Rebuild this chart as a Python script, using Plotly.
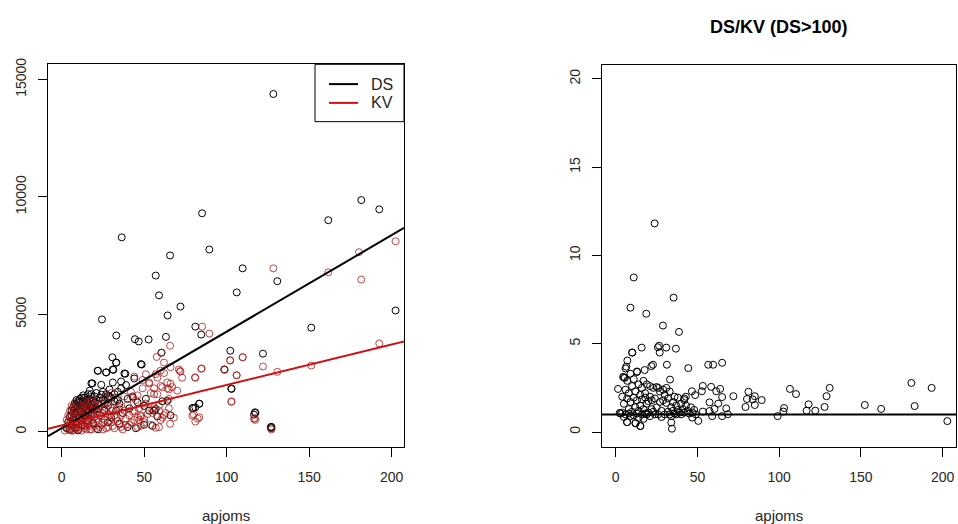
import plotly.graph_objects as go

# ---------------- data (left panel: DS and KV vs apjoms) ----------------
ds_x = [128.3, 181.6, 192.5, 161.6, 85.1, 36.4, 89.5, 65.7, 109.7, 57.0, 130.7, 106.1, 59.0, 72.0,
        64.2, 24.4, 202.4, 151.3, 81.0, 84.6, 33.1, 44.4, 46.7, 52.7, 63.2, 102.2, 122.0, 30.7,
        33.1, 60.4, 48.5, 21.8, 31.3, 26.9, 38.6, 102.8, 83.4, 81.0, 79.2, 117.4, 116.6, 127.1,
        127.1, 57.0, 18.6, 98.6, 103.0, 79.8, 83.4, 117.2, 126.8,
        3, 4, 5, 5, 6, 6, 7, 7, 8, 8, 8, 9, 9, 10, 10, 10, 11, 11, 12, 12, 12, 13, 13, 14, 14, 14,
        15, 15, 16, 16, 17, 17, 18, 18, 19, 19, 20, 20, 21, 22, 22, 23, 24, 24, 25, 26, 27, 27,
        28, 29, 30, 30, 31, 31, 32, 33, 33, 34, 35, 36, 36, 37, 38, 39, 40, 41, 43, 44, 46, 48,
        50, 51, 53, 56, 58, 61, 64, 66, 40, 45, 50, 55, 28, 35, 22,
        5, 6, 7, 8, 9, 9, 10, 11, 11, 12, 13, 13, 14, 15, 16, 16, 17, 18, 18, 19, 20, 21, 22,
        23, 25, 26, 28, 29, 32, 34]
ds_y = [14380, 9863, 9470, 9007, 9301, 8277, 7758, 7506, 6958, 6650, 6411, 5934, 5808, 5331,
        4952, 4784, 5163, 4433, 4475, 4139, 4097, 3942, 3844, 3928, 4040, 3451, 3325, 3171,
        2946, 3367, 2862, 2595, 2637, 2525, 2469, 1838, 1193, 1038, 1010, 800, 730, 210,
        154, 968, 2062, 2652, 1825, 1010, 1195, 829, 198,
        150, 420, 80, 650, 300, 900, 1050, 520, 180, 1200, 760, 1350, 400, 950, 1100, 60, 1250,
        620, 1450, 850, 300, 1000, 1550, 1180, 700, 250, 1350, 900, 1600, 480, 1100, 1750, 2060,
        800, 1300, 350, 1500, 950, 1650, 2600, 1200, 700, 1580, 2000, 1350, 900, 2530, 1600,
        1100, 1800, 1450, 600, 2100, 2650, 1300, 2940, 900, 1700, 1200, 2140, 1850, 800, 2480,
        1990, 1400, 1000, 1500, 2270, 1250, 2880, 1100, 1400, 900, 900, 660, 1300, 1320, 700,
        200, 150, 300, 250, 400, 350, 100,
        350, 700, 800, 1000, 1150, 600, 1300, 900, 1400, 1100, 750, 1300, 1450, 1100, 1250, 800,
        1400, 1600, 1150, 1000, 1250, 1350, 1000, 1450, 1700, 1200, 1400, 1500, 1600, 1350]

kv_x = [202.4, 180.2, 181.6, 128.3, 161.6, 192.5, 85.1, 89.5, 151.3, 130.7, 122.0, 109.7, 102.2,
        106.1, 98.8, 84.6, 81.0, 102.8, 79.2, 83.4, 81.0, 116.6, 117.4, 127.1, 72.0, 65.7, 64.2,
        57.0, 59.0, 65.7, 102.0, 109.7, 98.6, 106.0, 103.0, 80.8, 84.8, 71.7, 80.0, 82.5, 117.0,
        57.6, 60.6, 62.0, 66.0, 60.0, 57.0, 62.0, 73.0, 71.0, 44.0, 49.0, 51.0, 53.0, 56.0, 60.0,
        64.0, 67.0, 65.0, 46.0, 54.0, 58.0, 43.0, 56.0, 59.0, 62.0, 65.0, 58.0, 55.0, 61.0, 48.0,
        50.0, 47.0,
        2, 3, 4, 4, 5, 5, 6, 6, 7, 7, 8, 8, 9, 9, 10, 10, 11, 11, 12, 12, 13, 13, 14, 14, 15, 15,
        16, 16, 17, 17, 18, 18, 19, 20, 20, 21, 22, 22, 23, 24, 24, 25, 26, 26, 27, 28, 28, 29,
        30, 30, 31, 32, 33, 34, 35, 36, 37, 38, 39, 40, 41, 42, 43, 44, 45, 46, 47, 48, 49, 50,
        51, 52, 53, 54, 55, 56, 58, 59, 60, 61, 63, 65, 66, 68, 70,
        3, 4, 5, 6, 6, 7, 7, 8, 8, 9, 9, 10, 10, 11, 11, 12, 12, 13, 13, 14, 14, 15, 15, 16, 16,
        17, 17, 18, 18, 19, 19, 20, 21, 21, 22, 23, 23, 24, 25, 25, 26, 27, 28, 29, 30, 31, 32,
        33, 34, 35, 36, 37, 38, 39, 41, 42, 44, 46, 48]
kv_y = [8109, 7646, 6481, 6958, 6790, 3760, 4475, 4181, 2820, 2553, 2778, 3171, 3030, 2399,
        2637, 2680, 2301, 1277, 687, 617, 435, 547, 505, 98, 2567, 3662, 1852, 168, 196, 337,
        3047, 3173, 2652, 2414, 1292, 2315, 2694, 2583, 750, 560, 580,
        3186, 3367, 2946, 2750, 2600, 2450, 2500, 2300, 2650, 2350, 2200, 2450, 2050, 1850,
        1950, 2100, 1900, 1800, 1550, 1650, 1600, 1450, 1050, 900, 700, 1000, 650, 800, 600,
        700, 550, 500,
        50, 200, 100, 400, 250, 600, 50, 450, 300, 750, 150, 550, 350, 900, 100, 650, 450, 1000,
        250, 750, 550, 1100, 150, 850, 400, 1200, 650, 300, 950, 100, 500, 1300, 750, 250, 1050,
        550, 850, 1400, 200, 650, 1150, 400, 950, 1500, 150, 750, 1250, 450, 1000, 1650, 250,
        700, 1350, 450, 1050, 200, 800, 1500, 550, 1150, 300, 1700, 850, 500, 1350, 200, 1000,
        650, 1850, 400, 1200, 750, 2100, 300, 950, 1600, 2300, 1100, 500, 1900, 800, 1400, 2050,
        600, 1750,
        500, 700, 900, 150, 1100, 50, 950, 350, 1250, 150, 650, 400, 1150, 200, 800, 50, 500,
        300, 900, 600, 1300, 100, 800, 450, 1100, 250, 700, 100, 900, 400, 1200, 650, 150, 950,
        400, 700, 1100, 300, 100, 800, 500, 1000, 200, 700, 400, 900, 150, 600, 1000, 300, 700,
        100, 900, 300, 700, 400, 900, 600, 250]

# fitted lines (intercept, slope)
ds_fit = (151.0, 41.1)
kv_fit = (266.0, 17.24)

# ---------------- data (right panel: DS/KV, DS>100) ----------------
ratio_x = [23.8, 11.0, 9.0, 35.4, 18.7, 28.9, 38.7, 26.5, 25.8, 15.9, 30.9, 36.8, 10.2, 26.9, 7.1,
           65.1, 56.6, 59.6, 22.8, 21.8, 31.3, 6.5, 44.4, 17.7, 13.0, 4.5, 5.5, 33.2, 180.9,
           193.3, 130.9, 106.6, 110.3, 129.0, 81.2, 72.0, 85.1, 89.3, 80.3, 83.8, 85.1, 79.4,
           152.4, 182.9, 118.0, 127.8, 162.4, 116.8, 122.1, 103.0, 102.6, 99.1, 202.9, 53.3,
           52.7, 58.4, 63.9, 61.5, 65.1, 57.4, 62.7, 67.6, 60.4, 57.4, 53.3, 59.0, 65.1, 68.6,
           50.5, 46.8, 48.6, 46.6, 42.9, 41.9, 34.0, 34.4, 15.1, 6.9, 12.2, 1.4, 2.4,
           3, 4, 4, 5, 5, 5, 6, 6, 6, 7, 7, 7, 8, 8, 8, 9, 9, 9, 10, 10, 10, 11, 11, 11, 12, 12,
           12, 13, 13, 13, 14, 14, 14, 15, 15, 15, 16, 16, 16, 17, 17, 17, 18, 18, 18, 19, 19, 19,
           20, 20, 21, 21, 21, 22, 22, 23, 23, 24, 24, 25, 25, 26, 26, 27, 27, 28, 28, 29, 29, 30,
           30, 31, 31, 32, 32, 33, 33, 34, 34, 35, 35, 36, 36, 37, 37, 38, 38, 39, 40, 40, 41, 42,
           42, 43, 44, 45, 46, 47, 48, 49]
ratio_y = [11.81, 8.75, 7.04, 7.61, 6.70, 6.03, 5.67, 4.89, 4.80, 4.78, 4.78, 4.72, 4.50, 4.50,
           4.05, 3.92, 3.81, 3.81, 3.81, 3.73, 3.81, 3.70, 3.62, 3.51, 3.43, 3.12, 3.06, 2.97,
           2.78, 2.50, 2.50, 2.44, 2.15, 2.03, 2.28, 2.03, 2.03, 1.81, 1.87, 1.85, 1.53, 1.42,
           1.53, 1.47, 1.57, 1.42, 1.31, 1.21, 1.21, 1.36, 1.16, 0.90, 0.62, 2.61, 2.31, 2.56,
           2.44, 2.31, 1.98, 1.68, 1.61, 1.34, 1.31, 1.19, 1.16, 0.90, 0.90, 1.01, 0.63, 0.82,
           2.09, 2.31, 2.00, 1.81, 0.54, 0.19, 0.34, 0.56, 0.50, 2.44, 1.08,
           1.05, 2.0, 1.1, 3.1, 1.6, 0.85, 2.4, 3.6, 1.0, 1.9, 2.9, 0.56, 1.3, 2.2, 1.05, 3.3, 1.7,
           0.9, 2.6, 1.15, 4.5, 1.95, 3.0, 0.95, 1.4, 2.3, 0.5, 3.4, 1.05, 1.8, 2.7, 1.2, 0.8, 2.1,
           1.5, 0.34, 2.5, 1.0, 1.85, 2.9, 1.3, 0.75, 1.95, 2.2, 1.05, 1.6, 2.7, 1.0, 1.75, 1.1,
           2.0, 2.6, 0.9, 1.3, 1.8, 2.5, 1.15, 1.9, 1.0, 2.55, 1.4, 2.5, 1.0, 1.7, 2.3, 1.2, 0.85,
           2.4, 1.8, 1.0, 2.1, 1.65, 2.5, 1.15, 1.9, 1.0, 2.3, 1.4, 0.9, 1.7, 1.2, 2.0, 1.05, 1.5,
           1.0, 1.95, 1.25, 1.1, 1.6, 1.0, 1.3, 1.9, 1.1, 1.5, 1.2, 1.05, 1.4, 1.1, 1.25, 1.0]
ratio_ref = 1.0

x_ticks = [0, 50, 100, 150, 200]
y1_ticks = [0, 5000, 10000, 15000]
y2_ticks = [0, 5, 10, 15, 20]

x1_range = [-8.3, 207.5]
y1_range = [-644, 15644]
x2_range = [-8.4, 208.2]
y2_range = [-0.84, 20.76]

W, H = 958, 524
FONT = "Liberation Sans, Arial, sans-serif"
TXT = "#262626"
RED_PT = "rgba(175,20,20,0.78)"

fig = go.Figure()

fig.add_trace(go.Scatter(x=ds_x, y=ds_y, mode="markers", xaxis="x", yaxis="y",
                         marker=dict(symbol="circle-open", size=7, color="black",
                                     line=dict(width=1)), showlegend=False))
fig.add_trace(go.Scatter(x=kv_x, y=kv_y, mode="markers", xaxis="x", yaxis="y",
                         marker=dict(symbol="circle-open", size=7, color=RED_PT,
                                     line=dict(width=1)), showlegend=False))

for (b0, b1), col in [(ds_fit, "black"), (kv_fit, "#d01010")]:
    xs = x1_range
    ys = [b0 + b1 * v for v in xs]
    fig.add_trace(go.Scatter(x=xs, y=ys, mode="lines", xaxis="x", yaxis="y",
                             line=dict(color=col, width=2), showlegend=False))

fig.add_trace(go.Scatter(x=ratio_x, y=ratio_y, mode="markers", xaxis="x2", yaxis="y2",
                         marker=dict(symbol="circle-open", size=7, color="black",
                                     line=dict(width=1)), showlegend=False))
fig.add_trace(go.Scatter(x=x2_range, y=[ratio_ref, ratio_ref], mode="lines",
                         xaxis="x2", yaxis="y2",
                         line=dict(color="black", width=2), showlegend=False))

def px(v):
    return v / W

def py(v):
    return 1 - v / H

tickfont = dict(family=FONT, size=14, color=TXT)
axis_common = dict(showline=True, linecolor="black", linewidth=1, mirror=True,
                   showgrid=False, zeroline=False, ticks="outside", ticklen=9,
                   tickcolor="black", tickwidth=1, tickfont=tickfont)

fig.update_layout(
    width=W, height=H,
    margin=dict(l=0, r=0, t=0, b=0),
    paper_bgcolor="white", plot_bgcolor="white",
    xaxis=dict(domain=[px(48), px(404)], range=x1_range, anchor="y",
               tickvals=x_ticks, ticktext=[str(t) for t in x_ticks],
               ticklabelstandoff=8, **axis_common),
    yaxis=dict(domain=[py(446), py(59)], range=y1_range, anchor="x",
               tickvals=y1_ticks, ticktext=[str(t) for t in y1_ticks],
               tickangle=-90, ticklabelstandoff=6, **axis_common),
    xaxis2=dict(domain=[px(602), px(956)], range=x2_range, anchor="y2",
                tickvals=x_ticks, ticktext=[str(t) for t in x_ticks],
                ticklabelstandoff=8, **axis_common),
    yaxis2=dict(domain=[py(446), py(60)], range=y2_range, anchor="x2",
                tickvals=y2_ticks, ticktext=[str(t) for t in y2_ticks],
                tickangle=-90, ticklabelstandoff=6, **axis_common),
)

annots = [
    dict(text="apjoms", x=px(226), y=py(515), xref="paper", yref="paper",
         showarrow=False, font=dict(family=FONT, size=15, color=TXT),
         xanchor="center", yanchor="middle"),
    dict(text="apjoms", x=px(779), y=py(515), xref="paper", yref="paper",
         showarrow=False, font=dict(family=FONT, size=15, color=TXT),
         xanchor="center", yanchor="middle"),
    dict(text="<b>DS/KV (DS>100)</b>", x=px(779), y=py(21), xref="paper", yref="paper",
         showarrow=False, font=dict(family=FONT, size=18, color="black"),
         xanchor="center", yanchor="middle"),
    dict(text="DS", x=px(369), y=py(79), xref="paper", yref="paper",
         showarrow=False, font=dict(family=FONT, size=16, color=TXT),
         xanchor="left", yanchor="middle"),
    dict(text="KV", x=px(369), y=py(98), xref="paper", yref="paper",
         showarrow=False, font=dict(family=FONT, size=16, color=TXT),
         xanchor="left", yanchor="middle"),
]
fig.update_layout(annotations=annots)

shapes = [
    dict(type="rect", xref="paper", yref="paper", x0=px(315), x1=px(404), y0=py(117), y1=py(59),
         line=dict(color="black", width=1), fillcolor="white", layer="above"),
    dict(type="line", xref="paper", yref="paper", x0=px(329), x1=px(358), y0=py(79), y1=py(79),
         line=dict(color="black", width=2)),
    dict(type="line", xref="paper", yref="paper", x0=px(329), x1=px(358), y0=py(98), y1=py(98),
         line=dict(color="#d01010", width=2)),
]
fig.update_layout(shapes=shapes)

fig.write_html(
    "out.html",
    config={"displayModeBar": False},
    post_script="document.body.style.margin='0px';document.body.style.padding='0px';"
                "document.body.style.overflow='hidden';",
)
